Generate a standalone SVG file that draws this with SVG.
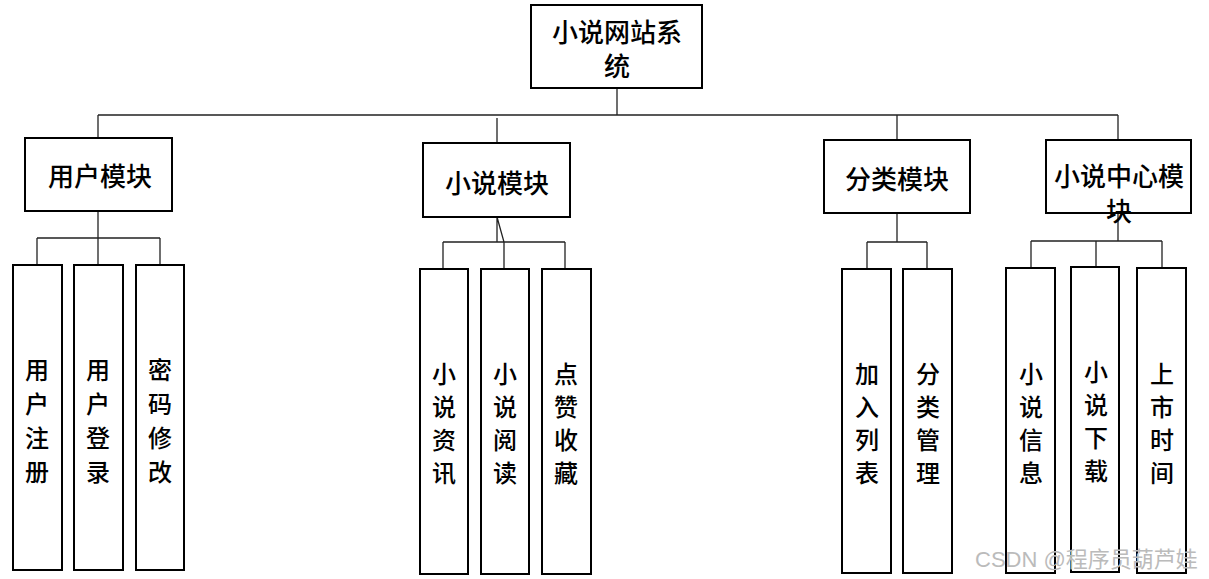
<svg xmlns="http://www.w3.org/2000/svg" width="1209" height="579" viewBox="0 0 1209 579">
<style>
.box{fill:#fff;stroke:#000;stroke-width:2}
.ln{fill:none;stroke:#222;stroke-width:1.3}
.t{font-family:"Noto Sans CJK SC","Noto Sans",sans-serif;font-size:26px;font-weight:500;fill:#000;text-anchor:middle;dominant-baseline:central}
.v{font-family:"Noto Sans CJK SC","Noto Sans",sans-serif;font-size:24px;font-weight:500;fill:#000;text-anchor:middle;dominant-baseline:central}
.wm{font-family:"Liberation Sans","Noto Sans CJK SC",sans-serif;font-size:22px;fill:#bbb}
</style>
<rect width="1209" height="579" fill="#fff"/>
<g id="connectors">
<path class="ln" d="M617,88V115M98,115H1118M98,115V138M497,118V143M897,115V140M1118,115V140"/>
<path class="ln" d="M98,211V238M37,238H160M37,238V265M98,238V265M160,238V265"/>
<path class="ln" d="M497,217V242M497,217L504,242V269M443,242H565M443,242V269M565,242V269"/>
<path class="ln" d="M897,213V242M867,242H927M867,242V269M927,242V269"/>
<path class="ln" d="M1118,213V241M1031,241H1162M1031,241V268M1096,241V267M1162,241V268"/>
</g>
<g id="root"><rect class="box" x="531" y="5" width="171" height="83"/><text class="t" x="617" y="30">小说网站系</text><text class="t" x="617" y="64">统</text></g>
<g id="user"><rect class="box" x="25" y="138" width="147" height="73"/><text class="t" x="100" y="174">用户模块</text></g>
<g id="novel"><rect class="box" x="423" y="143" width="147" height="74"/><text class="t" x="497" y="181">小说模块</text></g>
<g id="category"><rect class="box" x="824" y="140" width="146" height="73"/><text class="t" x="897" y="177">分类模块</text></g>
<g id="center"><rect class="box" x="1046" y="140" width="145" height="73"/><text class="t" x="1119" y="174">小说中心模</text><text class="t" x="1119" y="209">块</text></g>
<g id="u1"><rect class="box" x="13" y="265" width="49" height="305"/><text class="v"><tspan x="37" y="368">用</tspan><tspan x="37" y="402">户</tspan><tspan x="37" y="436">注</tspan><tspan x="37" y="470">册</tspan></text></g>
<g id="u2"><rect class="box" x="74" y="265" width="49" height="305"/><text class="v"><tspan x="98" y="368">用</tspan><tspan x="98" y="402">户</tspan><tspan x="98" y="436">登</tspan><tspan x="98" y="470">录</tspan></text></g>
<g id="u3"><rect class="box" x="136" y="265" width="48" height="305"/><text class="v"><tspan x="160" y="368">密</tspan><tspan x="160" y="402">码</tspan><tspan x="160" y="436">修</tspan><tspan x="160" y="470">改</tspan></text></g>
<g id="n1"><rect class="box" x="420" y="269" width="48" height="305"/><text class="v"><tspan x="444" y="372">小</tspan><tspan x="444" y="405">说</tspan><tspan x="444" y="438">资</tspan><tspan x="444" y="471">讯</tspan></text></g>
<g id="n2"><rect class="box" x="481" y="269" width="48" height="305"/><text class="v"><tspan x="505" y="372">小</tspan><tspan x="505" y="405">说</tspan><tspan x="505" y="438">阅</tspan><tspan x="505" y="471">读</tspan></text></g>
<g id="n3"><rect class="box" x="542" y="269" width="49" height="305"/><text class="v"><tspan x="566" y="372">点</tspan><tspan x="566" y="405">赞</tspan><tspan x="566" y="438">收</tspan><tspan x="566" y="471">藏</tspan></text></g>
<g id="c1"><rect class="box" x="842" y="269" width="49" height="304"/><text class="v"><tspan x="867" y="372">加</tspan><tspan x="867" y="405">入</tspan><tspan x="867" y="438">列</tspan><tspan x="867" y="471">表</tspan></text></g>
<g id="c2"><rect class="box" x="903" y="269" width="49" height="304"/><text class="v"><tspan x="928" y="372">分</tspan><tspan x="928" y="405">类</tspan><tspan x="928" y="438">管</tspan><tspan x="928" y="471">理</tspan></text></g>
<g id="m1"><rect class="box" x="1006" y="268" width="49" height="305"/><text class="v"><tspan x="1031" y="372">小</tspan><tspan x="1031" y="405">说</tspan><tspan x="1031" y="438">信</tspan><tspan x="1031" y="471">息</tspan></text></g>
<g id="m2"><rect class="box" x="1071" y="267" width="48" height="305"/><text class="v"><tspan x="1096" y="370">小</tspan><tspan x="1096" y="403">说</tspan><tspan x="1096" y="436">下</tspan><tspan x="1096" y="469">载</tspan></text></g>
<g id="m3"><rect class="box" x="1137" y="268" width="49" height="305"/><text class="v"><tspan x="1162" y="372">上</tspan><tspan x="1162" y="405">市</tspan><tspan x="1162" y="438">时</tspan><tspan x="1162" y="471">间</tspan></text></g>
<text class="wm" x="975" y="567">CSDN @程序员葫芦娃</text>
</svg>
